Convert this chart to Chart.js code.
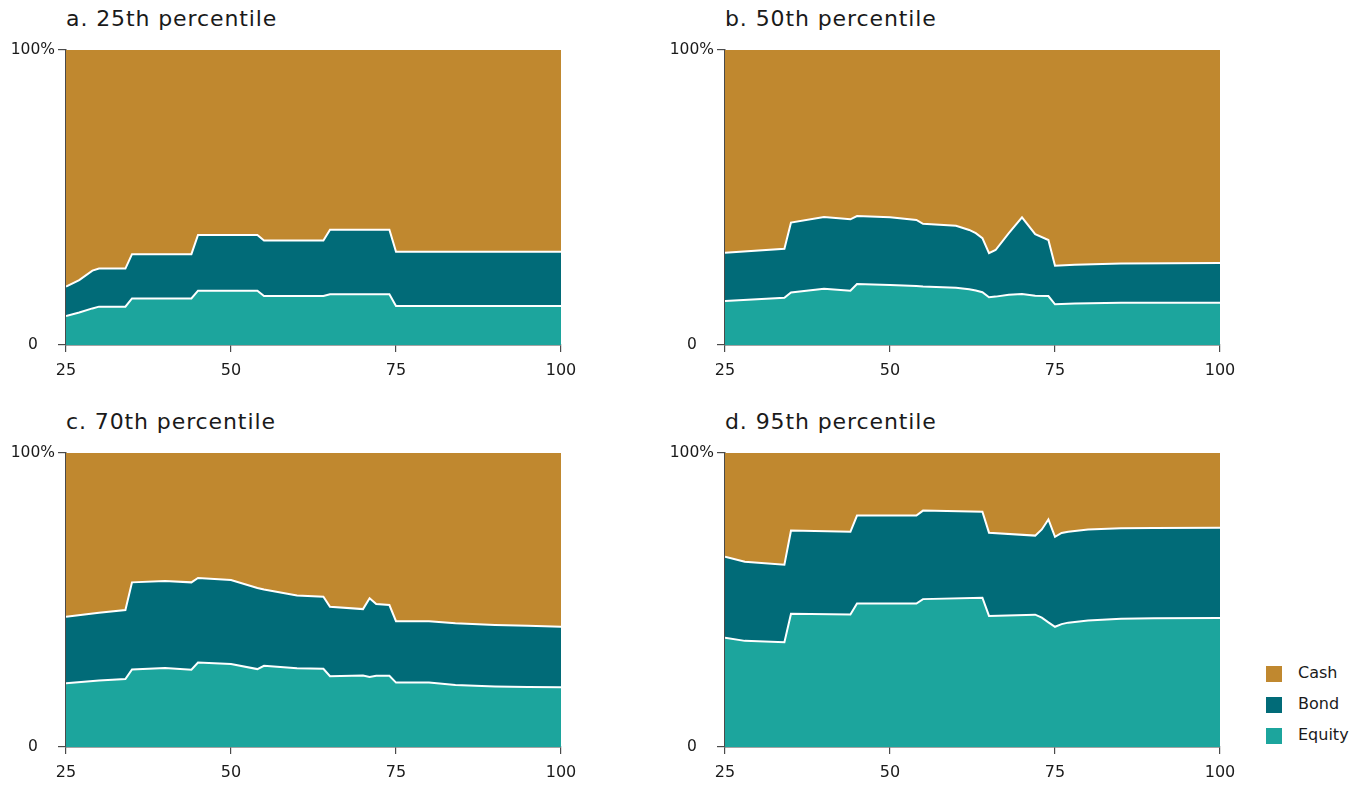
<!DOCTYPE html>
<html>
<head>
<meta charset="utf-8">
<script src="https://cdn.jsdelivr.net/npm/chart.js@4"></script>
<style>
  html, body { margin:0; padding:0; background:#fff; }
  body { width:1364px; height:785px; position:relative; overflow:hidden; font-family:"DejaVu Sans",sans-serif; color:#222; }
  canvas { position:absolute; }
  .title { position:absolute; font-size:22px; letter-spacing:0.9px; color:#1a1a1a; white-space:nowrap; }
  .legend { position:absolute; left:1266px; top:666px; }
  .legend .item { position:relative; height:31px; }
  .legend .sw { position:absolute; left:0; top:0; width:16px; height:16px; }
  .legend .lb { position:absolute; left:32px; top:-3px; font-size:16px; color:#1a1a1a; white-space:nowrap; }
</style>
</head>
<body>
<div class="title" style="left:66px; top:6px;">a. 25th percentile</div>
<div class="title" style="left:725px; top:6px;">b. 50th percentile</div>
<div class="title" style="left:66px; top:409px;">c. 70th percentile</div>
<div class="title" style="left:725px; top:409px;">d. 95th percentile</div>

<canvas id="ca" width="600" height="345" style="left:0px; top:40px;"></canvas>
<canvas id="cb" width="600" height="345" style="left:659px; top:40px;"></canvas>
<canvas id="cc" width="600" height="344" style="left:0px; top:443px;"></canvas>
<canvas id="cd" width="600" height="344" style="left:659px; top:443px;"></canvas>

<div class="legend">
  <div class="item"><div class="sw" style="background:#C0882F"></div><div class="lb">Cash</div></div>
  <div class="item"><div class="sw" style="background:#016B78"></div><div class="lb">Bond</div></div>
  <div class="item"><div class="sw" style="background:#1CA59D"></div><div class="lb">Equity</div></div>
</div>

<script>
// ---- Data (percent of portfolio, by age) ----
const xTickValues = [25, 50, 75, 100];
const yTickValues = [0, 100];
const seriesNames = ['Equity', 'Bond', 'Cash'];

// a. 25th percentile
const agesA   = [25, 27, 29, 30, 34, 35, 44, 45, 54, 55, 64, 65, 74, 75, 100];
const equityA = [9.8, 11.0, 12.4, 13.0, 13.0, 15.8, 15.8, 18.4, 18.4, 16.6, 16.6, 17.2, 17.2, 13.2, 13.2];
const bondA   = [10.0, 11.0, 12.8, 12.9, 12.9, 15.0, 15.0, 18.9, 18.9, 18.8, 18.8, 21.9, 21.9, 18.4, 18.4];
const cashA   = [80.2, 78.0, 74.8, 74.1, 74.1, 69.2, 69.2, 62.7, 62.7, 64.6, 64.6, 60.9, 60.9, 68.4, 68.4];

// b. 50th percentile
const agesB   = [25, 34, 35, 40, 44, 45, 50, 54, 55, 60, 62, 63, 64, 65, 66, 68, 70, 72, 74, 75, 78, 85, 100];
const equityB = [14.9, 16.0, 17.8, 19.1, 18.4, 20.7, 20.3, 20.0, 19.8, 19.4, 18.9, 18.5, 17.9, 16.2, 16.4, 17.0, 17.3, 16.7, 16.6, 13.8, 14.1, 14.3, 14.3];
const bondB   = [16.4, 16.6, 23.7, 24.3, 24.2, 23.0, 23.0, 22.4, 21.3, 21.0, 20.1, 19.4, 18.3, 14.9, 15.8, 20.9, 26.0, 20.9, 19.0, 13.1, 13.1, 13.3, 13.5];
const cashB   = [68.7, 67.4, 58.5, 56.6, 57.4, 56.3, 56.7, 57.6, 58.9, 59.6, 61.0, 62.1, 63.8, 68.9, 67.8, 62.1, 56.7, 62.4, 64.4, 73.1, 72.8, 72.4, 72.2];

// c. 70th percentile
const agesC   = [25, 30, 34, 35, 40, 44, 45, 50, 54, 55, 60, 64, 65, 70, 71, 72, 74, 75, 80, 84, 90, 95, 100];
const equityC = [21.7, 22.6, 23.1, 26.4, 26.9, 26.3, 28.7, 28.2, 26.5, 27.6, 26.8, 26.6, 24.1, 24.3, 23.8, 24.2, 24.2, 21.9, 21.9, 21.1, 20.6, 20.4, 20.3];
const bondC   = [22.6, 23.1, 23.5, 29.6, 29.6, 29.7, 28.8, 28.6, 27.6, 26.0, 24.7, 24.5, 23.6, 22.6, 26.8, 24.4, 24.1, 20.9, 20.9, 21.0, 20.9, 20.8, 20.6];
const cashC   = [55.7, 54.3, 53.4, 44.0, 43.5, 44.0, 42.5, 43.2, 45.9, 46.4, 48.5, 48.9, 52.3, 53.1, 49.4, 51.4, 51.7, 57.2, 57.2, 57.9, 58.5, 58.8, 59.1];

// d. 95th percentile
const agesD   = [25, 28, 34, 35, 44, 45, 54, 55, 64, 65, 72, 73, 74, 75, 76, 77, 80, 85, 90, 100];
const equityD = [37.2, 36.1, 35.6, 45.3, 45.1, 48.8, 48.8, 50.3, 50.8, 44.6, 45.0, 44.0, 42.4, 40.9, 41.8, 42.3, 43.0, 43.6, 43.8, 43.9];
const bondD   = [27.5, 26.9, 26.4, 28.3, 28.1, 29.9, 29.9, 30.1, 29.2, 28.3, 26.9, 30.0, 35.0, 30.6, 31.0, 30.9, 31.0, 30.8, 30.7, 30.7];
const cashD   = [35.3, 37.0, 38.0, 26.4, 26.8, 21.3, 21.3, 19.6, 20.0, 27.1, 28.1, 26.0, 22.6, 28.5, 27.2, 26.8, 26.0, 25.6, 25.5, 25.4];

// ---- Styles ----
const COLORS = { Equity: '#1CA59D', Bond: '#016B78', Cash: '#C0882F' };
const AXIS = '#4a4a4a';
const FONT = '"DejaVu Sans", sans-serif';

function makeChart(id, ages, equity, bond, cash) {
  const pts = arr => ages.map((a, i) => ({ x: a, y: arr[i] }));
  const values = [equity, bond, cash];
  const datasets = seriesNames.map((name, i) => ({
    label: name,
    data: pts(values[i]),
    backgroundColor: COLORS[name],
    borderColor: name === 'Cash' ? 'rgba(0,0,0,0)' : '#ffffff',
    borderWidth: name === 'Cash' ? 0 : 2,
    fill: i === 0 ? 'origin' : '-1',
    pointRadius: 0,
    tension: 0
  }));
  new Chart(document.getElementById(id), {
    type: 'line',
    data: { datasets },
    options: {
      responsive: false,
      animation: false,
      layout: { padding: { top: 10, right: 39, left: 0, bottom: 0 } },
      plugins: { legend: { display: false }, tooltip: { enabled: false }, title: { display: false } },
      scales: {
        x: {
          type: 'linear', min: 25, max: 100, z: 1,
          afterBuildTicks: s => { s.ticks = xTickValues.map(v => ({ value: v })); },
          afterFit: s => { s.height = 40; s.paddingLeft = 0; s.paddingRight = 0; },
          grid: { drawOnChartArea: false, drawTicks: true, tickLength: 7, color: AXIS, lineWidth: 1.2 },
          border: { display: true, color: AXIS, width: 1.5 },
          ticks: { font: { family: FONT, size: 16 }, color: '#1a1a1a', padding: 9, maxRotation: 0, autoSkip: false }
        },
        y: {
          stacked: true, min: 0, max: 100, z: 1,
          afterBuildTicks: s => { s.ticks = yTickValues.map(v => ({ value: v })); },
          afterFit: s => { s.width = 66; s.paddingTop = 0; s.paddingBottom = 0; },
          grid: { drawOnChartArea: false, drawTicks: true, tickLength: 8, color: AXIS, lineWidth: 1.2 },
          border: { display: true, color: AXIS, width: 1.5 },
          ticks: {
            font: { family: FONT, size: 15.5 }, color: '#1a1a1a', padding: 3, crossAlign: 'center',
            callback: v => (v === 100 ? '100%' : '0')
          }
        }
      }
    }
  });
}

makeChart('ca', agesA, equityA, bondA, cashA);
makeChart('cb', agesB, equityB, bondB, cashB);
makeChart('cc', agesC, equityC, bondC, cashC);
makeChart('cd', agesD, equityD, bondD, cashD);
</script>
</body>
</html>
